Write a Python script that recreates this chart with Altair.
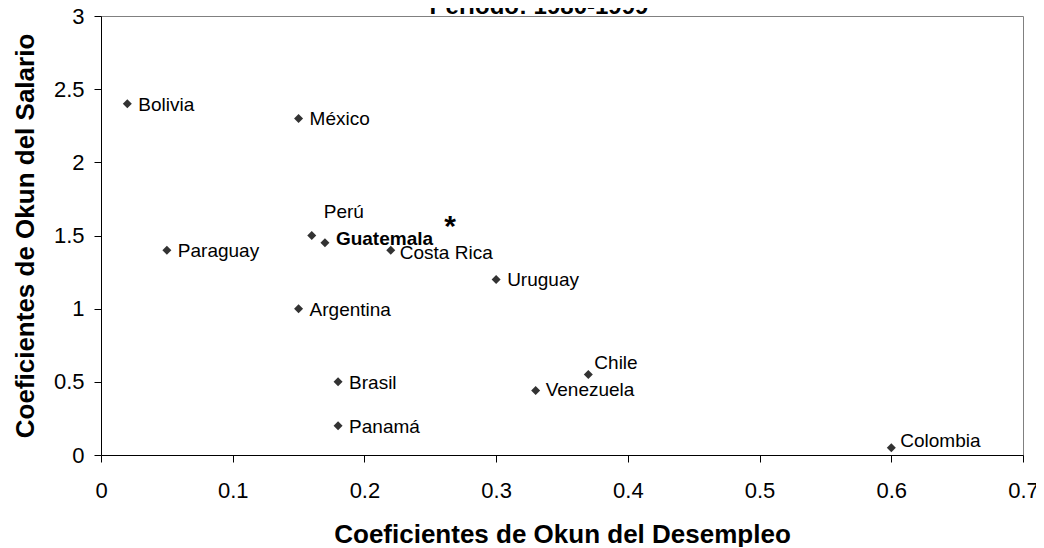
import altair as alt
import pandas as pd

# ---- data ----
paises = ["Bolivia", "México", "Paraguay", "Perú", "Guatemala", "Costa Rica",
          "Uruguay", "Argentina", "Brasil", "Panamá", "Chile", "Venezuela", "Colombia"]
okun_desempleo = [0.02, 0.15, 0.05, 0.16, 0.17, 0.22, 0.30, 0.15, 0.18, 0.18, 0.37, 0.33, 0.60]
okun_salario = [2.40, 2.30, 1.40, 1.50, 1.45, 1.40, 1.20, 1.00, 0.50, 0.20, 0.55, 0.44, 0.05]

x_ticks = [0, 0.1, 0.2, 0.3, 0.4, 0.5, 0.6, 0.7]
y_ticks = [0, 0.5, 1, 1.5, 2, 2.5, 3]

ann_x = [0.265]
ann_y = [1.50]
ann_text = ["*"]

titulo = "Período: 1980-1999"
x_title = "Coeficientes de Okun del Desempleo"
y_title = "Coeficientes de Okun del Salario"

FONT = "Liberation Sans"

df = pd.DataFrame({"pais": paises, "x": okun_desempleo, "y": okun_salario})
ann = pd.DataFrame({"x": ann_x, "y": ann_y, "t": ann_text})

W, H = 922, 439

x_enc = alt.X("x:Q",
              scale=alt.Scale(domain=[0, 0.7], nice=False, zero=False),
              axis=alt.Axis(values=x_ticks, labelExpr="'' + datum.value",
                            title=x_title, grid=False, labelFlush=False,
                            titleX=W / 2, titleY=87, titleAlign="center",
                            titleBaseline="alphabetic"))
y_enc = alt.Y("y:Q",
              scale=alt.Scale(domain=[0, 3], nice=False, zero=False),
              axis=alt.Axis(values=y_ticks, labelExpr="'' + datum.value",
                            title=y_title, grid=False, labelFlush=False,
                            titleX=-68, titleY=H / 2, titleAlign="center",
                            titleBaseline="alphabetic", titleAngle=-90))

base = alt.Chart(df)

points = base.mark_point(shape="diamond", filled=True, size=81,
                         color="#333333", opacity=1).encode(x=x_enc, y=y_enc)

# label placement groups (layout only)
label_groups = [
    (["Bolivia", "México", "Paraguay", "Uruguay", "Argentina", "Brasil", "Panamá"], 11, 7, "normal"),
    (["Perú"], 12, -18, "normal"),
    (["Guatemala"], 11, 2, "bold"),
    (["Costa Rica"], 9, 9, "normal"),
    (["Chile"], 6, -6, "normal"),
    (["Venezuela"], 10, 5, "normal"),
    (["Colombia"], 9, -1, "normal"),
]

label_layers = []
for names, dx, dy, weight in label_groups:
    label_layers.append(
        base.transform_filter(alt.FieldOneOfPredicate(field="pais", oneOf=names))
        .mark_text(align="left", baseline="alphabetic", dx=dx, dy=dy,
                   font=FONT, fontSize=19, fontWeight=weight, color="#000000")
        .encode(x="x:Q", y="y:Q", text="pais:N")
    )

asterisk = alt.Chart(ann).mark_text(align="center", baseline="alphabetic",
                                    font=FONT, fontSize=30, fontWeight="bold",
                                    color="#000000").encode(x="x:Q", y="y:Q", text="t:N")

title_mark = alt.Chart(pd.DataFrame({"t": [titulo]})).mark_text(
    align="center", baseline="alphabetic", font=FONT, fontSize=24,
    fontWeight="bold", color="#000000"
).encode(x=alt.value(438), y=alt.value(-2), text="t:N")

chart = alt.layer(points, *label_layers, asterisk, title_mark).properties(
    width=W, height=H,
    padding={"left": 93, "top": 8, "right": 13, "bottom": 92},
    autosize=alt.AutoSizeParams(type="none"),
    background="#ffffff",
).configure_view(
    stroke="#808080", strokeWidth=1
).configure_axis(
    domainColor="#000000", domainWidth=1,
    tickColor="#000000", tickSize=7, tickWidth=1,
    labelFont=FONT, labelFontSize=22, labelColor="#000000",
    titleFont=FONT, titleFontSize=26, titleFontWeight="bold", titleColor="#000000",
).configure_axisX(
    labelPadding=18
).configure_axisY(
    labelPadding=10
)

chart.save("out.html", embed_options={"renderer": "svg", "actions": False})
